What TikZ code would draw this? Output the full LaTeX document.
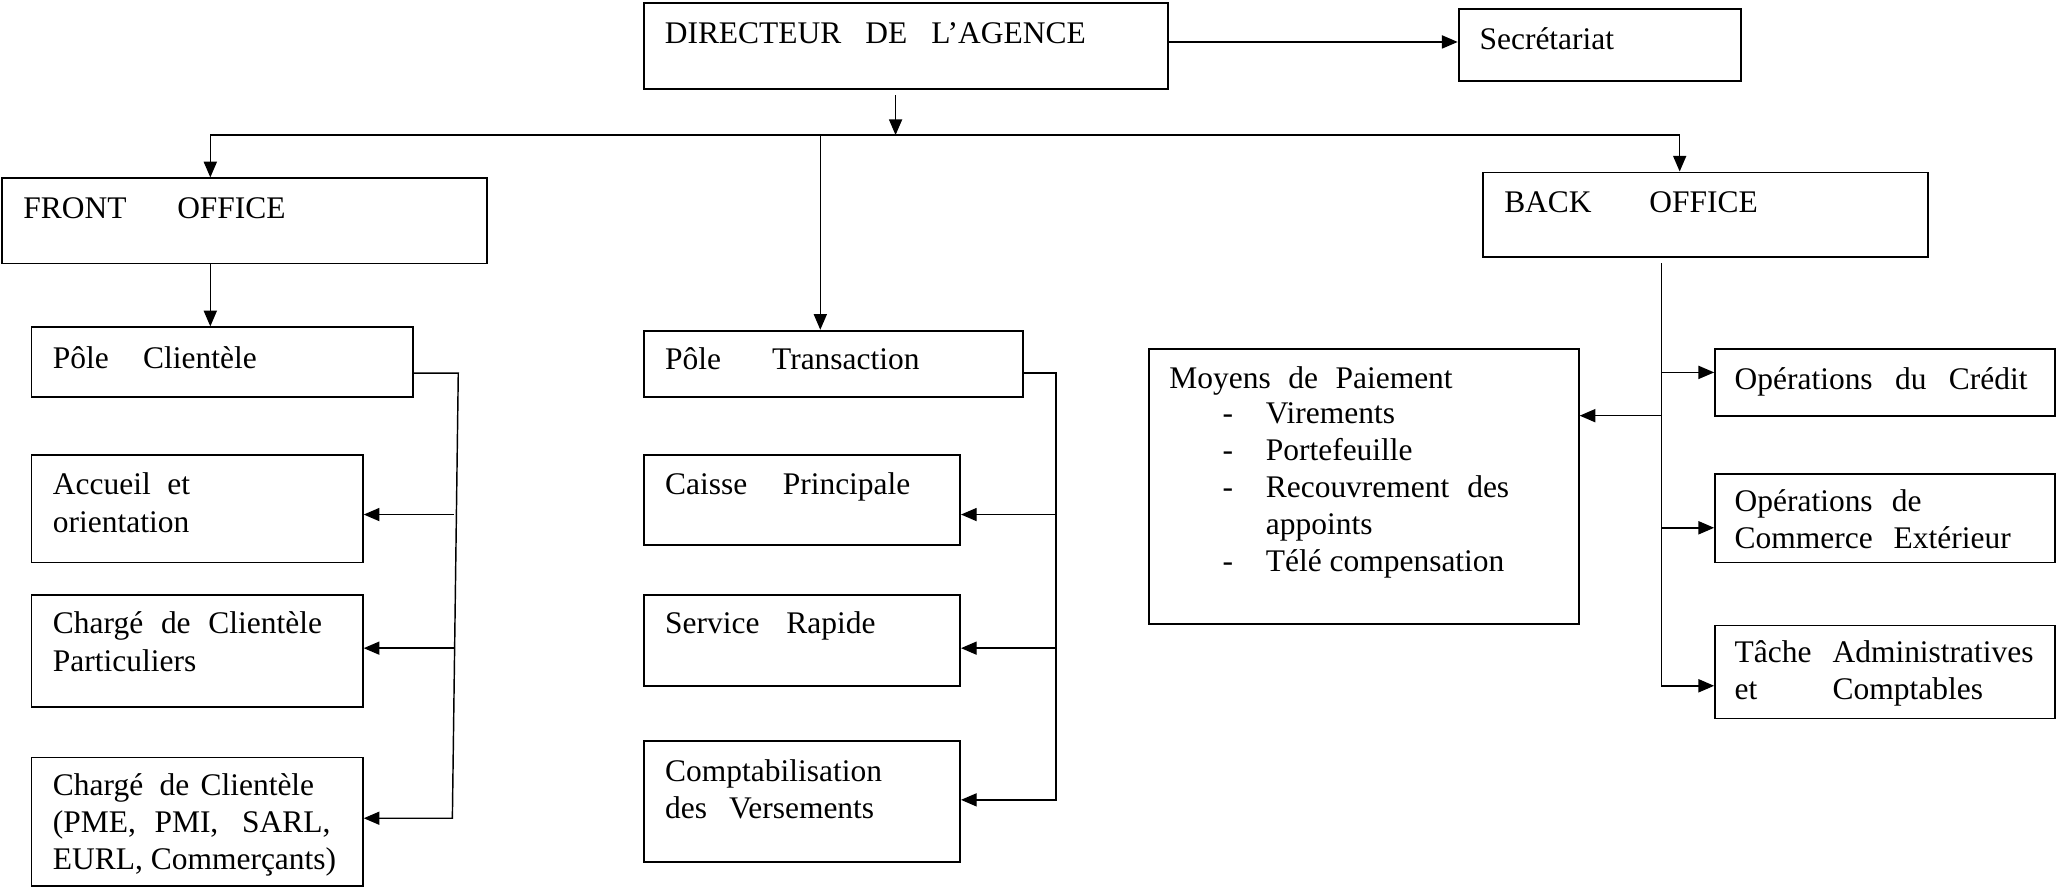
\documentclass[tikz,border=0pt]{standalone}
\usepackage{fontspec}
\setmainfont{Liberation Serif}
\usetikzlibrary{arrows.meta,fit}
% a line whose interword spaces are stretched to a given width (in pt)
\newcommand{\jl}[2]{\makebox[#1pt][s]{#2}}
% several left-aligned lines, baseline on the first one
\newcommand{\stackl}[1]{\begin{tabular}[t]{@{}l@{}}#1\end{tabular}}

\begin{document}
\begin{tikzpicture}[x=0.5pt,y=-0.5pt,
  box/.style={draw,line width=0.7pt,inner sep=0pt},
  txt/.style={anchor=base west,inner sep=0pt,font=\fontsize{12}{14.5}\selectfont},
  txtb/.style={anchor=base west,inner sep=0pt,font=\fontsize{12}{14}\selectfont},
  link/.style={line width=0.55pt},
  arr/.style={link,-{Triangle[length=6pt,width=5pt]}}]

\useasboundingbox (0,0) rectangle (1568,676.5);

% ---------- boxes ----------
\node[box,fit={(491,2)(890.5,68)}] (dir) {};
\node[box,fit={(1112.4,6.6)(1328,61.5)}] (sec) {};
\node[box,fit={(1.8,136)(371.6,201)}] (fo) {};
\node[box,fit={(1131,131.5)(1470.5,196)}] (bo) {};

\node[box,fit={(24,249.6)(314.7,303)}] (pc) {};
\node[box,fit={(24,347.3)(276.7,429)}] (acc) {};
\node[box,fit={(24,453.5)(276.7,539)}] (cpa) {};
\node[box,fit={(24,577.7)(276.7,675.7)}] (pme) {};

\node[box,fit={(491.3,252.2)(780.3,303)}] (ptr) {};
\node[box,fit={(491.3,347.3)(732.2,415.8)}] (cai) {};
\node[box,fit={(491.3,453.5)(732.2,522.9)}] (srv) {};
\node[box,fit={(491.3,565.2)(732.2,657.1)}] (cpt) {};

\node[box,fit={(876,266)(1204,476)}] (moy) {};
\node[box,fit={(1308,266)(1567,317)}] (ocr) {};
\node[box,fit={(1308,361.5)(1567,429)}] (oce) {};
\node[box,fit={(1308,477)(1567,548)}] (tac) {};

% ---------- texts ----------
\node[txt] (tdir) at (506.6,33.5) {\jl{160.5}{DIRECTEUR DE L’AGENCE}};
\node[txt] (tsec) at (1128,37.4) {Secrétariat};
\node[txt] (tfo) at (17.5,167) {\jl{100}{FRONT OFFICE}};
\node[txt] (tbo) at (1146.8,162) {\jl{96.7}{BACK OFFICE}};

\node[txt] (tpc) at (40,281) {\jl{77.7}{Pôle Clientèle}};
\node[txt] (tacc) at (40,377) {\stackl{\jl{52.3}{Accueil et}\\ orientation}};
\node[txt] (tcpa) at (40,483) {\stackl{\jl{102.6}{Chargé de Clientèle}\\ Particuliers}};
\node[txtb] (tpme) at (40,607) {\stackl{\jl{99.6}{Chargé\hspace{2pt} de Clientèle}\\
  \jl{105.8}{(PME, PMI,\hspace{2pt} SARL,}\\ EURL, Commerçants)}};

\node[txt] (tptr) at (506.9,282) {\jl{97}{Pôle Transaction}};
\node[txt] (tcai) at (506.9,377) {\jl{93.5}{Caisse Principale}};
\node[txt] (tsrv) at (506.9,483) {\jl{80.2}{Service Rapide}};
\node[txtb] (tcpt) at (506.9,596) {\stackl{Comptabilisation\\ \jl{79.7}{des Versements}}};

\node[txt] (tmoy) at (891.5,296) {\jl{108}{Moyens de Paiement}};
\node[anchor=base west,inner sep=0pt,font=\fontsize{12}{14.1}\selectfont] (tlist) at (932,323)
  {\begin{tabular}[t]{@{}l@{\hspace{12.5pt}}l@{}}
   - & Virements\\
   - & Portefeuille\\
   - & \jl{92.8}{Recouvrement des}\\
     & appoints\\
   - & Télé compensation
   \end{tabular}};

\node[txt] (tocr) at (1322.5,297) {\jl{111.7}{Opérations du Crédit}};
\node[txtb] (toce) at (1322.5,390) {\stackl{\jl{71.3}{Opérations de}\\ \jl{105.3}{Commerce Extérieur}}};
\node[txtb] (ttac) at (1322.5,505.5) {\stackl{\jl{114}{Tâche Administratives}\\ \jl{94.7}{et Comptables}}};

% ---------- connectors ----------
\coordinate (ds) at (890.5,32);
\draw[arr] (dir.east |- ds) -- (ds -| sec.west);

\coordinate (dout) at (683,72.5);
\coordinate (hub) at (683,103);
\coordinate (busL) at (160.4,103);
\coordinate (busM) at (625.6,103);
\coordinate (busR) at (1281,103);
\draw[arr] (dout) -- (hub);
\draw[link] (busL) -- (busR);
\draw[arr] (busL) -- (busL |- fo.north);
\draw[arr] (busR) -- (busR |- bo.north);
\draw[arr] (busM) -- (busM |- ptr.north);
\draw[arr] (fo.south -| busL) -- (busL |- pc.north);

% front office: client branch
\coordinate (cb1) at (349.5,284.5);
\coordinate (cb2) at (345,624);
\coordinate (ca1) at (346,392.4);
\coordinate (ca2) at (346,494.3);
\draw[arr] (pc.east |- cb1) -- (cb1) -- (cb2) -- (cb2 -| pme.east);
\draw[arr] (ca1) -- (ca1 -| acc.east);
\draw[arr] (ca2) -- (ca2 -| cpa.east);

% transaction branch
\coordinate (tb1) at (805.5,284.5);
\coordinate (tb2) at (805.5,610);
\coordinate (ta1) at (805.5,392.4);
\coordinate (ta2) at (805.5,494.3);
\draw[arr] (ptr.east |- tb1) -- (tb1) -- (tb2) -- (tb2 -| cpt.east);
\draw[arr] (ta1) -- (ta1 -| cai.east);
\draw[arr] (ta2) -- (ta2 -| srv.east);

% back office branch
\coordinate (bt) at (1267,200.8);
\coordinate (bb) at (1267,523);
\coordinate (ba1) at (1267,284);
\coordinate (ba2) at (1267,317);
\coordinate (ba3) at (1267,402.5);
\draw[arr] (bt) -- (bb) -- (bb -| tac.west);
\draw[arr] (ba1) -- (ba1 -| ocr.west);
\draw[arr] (ba2) -- (ba2 -| moy.east);
\draw[arr] (ba3) -- (ba3 -| oce.west);
\end{tikzpicture}
\end{document}
